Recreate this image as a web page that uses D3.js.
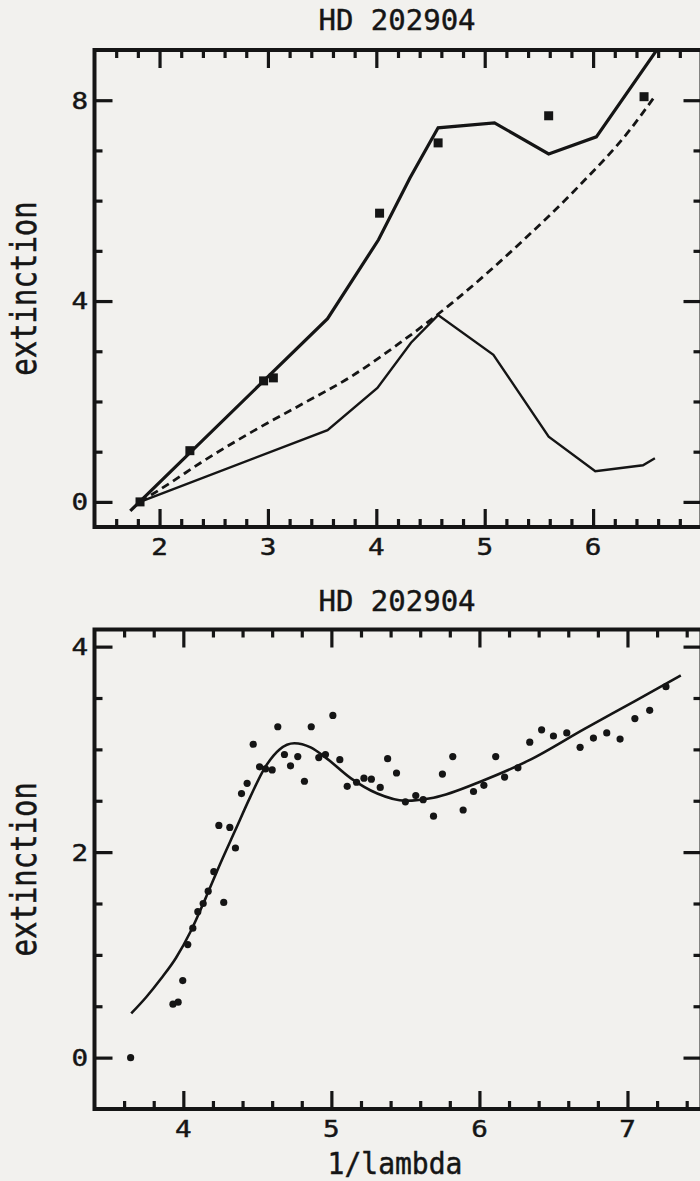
<!DOCTYPE html>
<html>
<head>
<meta charset="utf-8">
<script src="https://cdn.jsdelivr.net/npm/d3@7"></script>
<style>
  html, body { margin: 0; padding: 0; background: #f2f1ee; }
  svg { display: block; }
  text { font-family: "DejaVu Sans Mono", monospace; fill: #151515; stroke: #151515; stroke-width: 0.45; }
</style>
</head>
<body>
<svg id="chart" width="700" height="1181"></svg>
<script>
// ---- text ----
const titleText = "HD 202904";
const yLabelText = "extinction";
const xLabelText = "1/lambda";

// ---- upper panel: model curves and photometric points, [1/lambda, extinction] ----
const upperModel = [[1.73,-0.18],[3.55,3.65],[4.02,5.22],[4.31,6.45],[4.57,7.45],[5.09,7.55],[5.59,6.93],[6.03,7.27],[6.62,9.10]];
const lowerModel = [[1.82,0.00],[3.55,1.43],[4.01,2.27],[4.32,3.17],[4.57,3.72],[5.08,2.93],[5.59,1.30],[6.02,0.61],[6.46,0.73],[6.57,0.87]];
const dashedModel = [[1.82,0.00],[2.10,0.38],[2.38,0.78],[2.84,1.38],[3.30,1.93],[3.77,2.50],[4.22,3.17],[4.72,4.00],[5.36,5.22],[5.86,6.27],[6.34,7.41],[6.56,8.05]];
const photometry = [[1.82,0.00],[2.28,1.02],[2.96,2.41],[3.05,2.47],[4.03,5.75],[4.57,7.15],[5.59,7.69],[6.47,8.07]];

const upperXTicks = [2,3,4,5,6];
const upperYTicks = [0,4,8];

// ---- lower panel: fitted curve and spectral points ----
const fitCurve = [[3.648,0.43],[3.75,0.59],[3.85,0.77],[3.95,0.97],[4.05,1.23],[4.15,1.55],[4.25,1.89],[4.35,2.21],[4.45,2.53],[4.55,2.82],[4.65,3.00],[4.75,3.06],[4.86,3.02],[4.97,2.91],[5.13,2.72],[5.31,2.57],[5.50,2.50],[5.69,2.53],[6.03,2.70],[6.33,2.89],[6.71,3.20],[7.05,3.47],[7.36,3.72]];
const spectrum = [
  [3.644,0.00],[3.93,0.52],[3.965,0.54],[3.996,0.75],[4.03,1.10],[4.064,1.26],[4.098,1.42],[4.134,1.50],
  [4.168,1.62],[4.206,1.81],[4.273,1.51],[4.24,2.26],[4.314,2.24],[4.352,2.04],[4.393,2.57],[4.431,2.67],
  [4.472,3.05],[4.515,2.83],[4.555,2.81],[4.60,2.80],[4.638,3.22],[4.683,2.95],[4.724,2.84],[4.773,2.93],
  [4.818,2.69],[4.864,3.22],[4.915,2.92],[4.96,2.95],[5.01,3.33],[5.057,2.90],[5.107,2.64],
  [5.17,2.68],[5.22,2.72],[5.27,2.71],[5.33,2.63],[5.38,2.91],[5.44,2.77],[5.50,2.49],[5.57,2.55],
  [5.62,2.51],[5.69,2.35],[5.75,2.76],[5.82,2.93],[5.89,2.41],[5.96,2.59],[6.03,2.65],[6.11,2.93],
  [6.17,2.73],[6.26,2.82],[6.34,3.07],[6.42,3.19],[6.50,3.13],[6.59,3.16],[6.68,3.02],[6.77,3.11],
  [6.86,3.16],[6.95,3.10],[7.05,3.30],[7.15,3.38],[7.26,3.61]
];

const lowerXTicks = [4,5,6,7];
const lowerYTicks = [0,2,4];

// ---- drawing ----
const ink = "#151515";
const svg = d3.select("#chart");
svg.append("rect").attr("width", 700).attr("height", 1181).attr("fill", "#f2f1ee");

function minorValues(domain, step, majors) {
  const n0 = Math.ceil(domain[0] / step - 1e-9), n1 = Math.floor(domain[1] / step + 1e-9);
  return d3.range(n0, n1 + 1).map(i => +(i * step).toFixed(6))
    .filter(v => v > domain[0] + 1e-6 && v < domain[1] - 1e-6 && !majors.some(m => Math.abs(m - v) < 1e-6));
}

function drawPanel(p) {
  const g = svg.append("g");
  const x = d3.scaleLinear().domain(p.xDomain).range([p.left, p.right]);
  const y = d3.scaleLinear().domain(p.yDomain).range([p.bottom, p.top]);

  const clipId = "clip" + p.id;
  g.append("clipPath").attr("id", clipId)
    .append("rect").attr("x", p.left).attr("y", p.top)
    .attr("width", p.right - p.left).attr("height", p.bottom - p.top);

  // inward ticks on all four sides
  const xMajorAll = d3.range(Math.ceil(p.xDomain[0]), Math.floor(p.xDomain[1]) + 1);
  const xMinor = minorValues(p.xDomain, p.xMinorStep, xMajorAll);
  const yMinor = minorValues(p.yDomain, p.yMinorStep, p.yTicks);
  const majorLen = 18, minorLen = 8;

  function ticks(axisFn, scale, values, len, pos, horizontal) {
    const a = axisFn(scale).tickValues(values).tickSize(-len).tickSizeOuter(0).tickFormat("");
    const ag = g.append("g")
      .attr("transform", horizontal ? `translate(0,${pos})` : `translate(${pos},0)`)
      .attr("color", ink)
      .call(a);
    ag.select(".domain").remove();
    ag.selectAll(".tick line").attr("stroke-width", 3.2);
  }
  ticks(d3.axisBottom, x, xMajorAll, majorLen, p.bottom, true);
  ticks(d3.axisBottom, x, xMinor, minorLen, p.bottom, true);
  ticks(d3.axisTop, x, xMajorAll, majorLen, p.top, true);
  ticks(d3.axisTop, x, xMinor, minorLen, p.top, true);
  ticks(d3.axisLeft, y, p.yTicks, majorLen, p.left, false);
  ticks(d3.axisLeft, y, yMinor, minorLen, p.left, false);
  ticks(d3.axisRight, y, p.yTicks, majorLen, p.right, false);
  ticks(d3.axisRight, y, yMinor, minorLen, p.right, false);

  // frame
  g.append("rect")
    .attr("x", p.left).attr("y", p.top)
    .attr("width", p.right - p.left).attr("height", p.bottom - p.top)
    .attr("fill", "none").attr("stroke", ink).attr("stroke-width", 4);

  // tick labels
  g.selectAll(".xlab").data(p.xTicks).join("text")
    .attr("text-anchor", "middle")
    .attr("font-size", 23)
    .attr("transform", d => `translate(${x(d)},${p.bottom + 28}) scale(1.2,1)`)
    .text(d => d);
  g.selectAll(".ylab").data(p.yTicks).join("text")
    .attr("text-anchor", "end")
    .attr("font-size", 23)
    .attr("transform", d => `translate(88,${y(d) + 8.4}) scale(1.2,1)`)
    .text(d => d);

  // title and axis titles
  g.append("text").attr("x", (p.left + p.right) / 2 - 1).attr("y", p.top - p.titleGap)
    .attr("text-anchor", "middle").attr("font-size", 29).text(titleText);
  g.append("text")
    .attr("text-anchor", "middle").attr("font-size", 29)
    .attr("transform", `translate(36,${(p.top + p.bottom) / 2}) rotate(-90) scale(1,1.2)`)
    .text(yLabelText);
  if (p.xLabel) {
    g.append("text")
      .attr("text-anchor", "middle").attr("font-size", 28)
      .attr("transform", `translate(${(p.left + p.right) / 2 - 3},${p.bottom + 65}) scale(1,1.1)`)
      .text(p.xLabel);
  }

  const plot = g.append("g").attr("clip-path", `url(#${clipId})`);
  return { x, y, plot };
}

// upper panel
const up = drawPanel({
  id: "Upper", left: 94.5, right: 701.5, top: 50, bottom: 527,
  xDomain: [1.4, 7.0], yDomain: [-0.5, 9], xMinorStep: 0.2, yMinorStep: 1,
  xTicks: upperXTicks, yTicks: upperYTicks, titleGap: 20
});
const upLine = d3.line().x(d => up.x(d[0])).y(d => up.y(d[1]));
up.plot.append("path").datum(upperModel).attr("d", upLine)
  .attr("fill", "none").attr("stroke", ink).attr("stroke-width", 3.2);
up.plot.append("path").datum(lowerModel).attr("d", upLine)
  .attr("fill", "none").attr("stroke", ink).attr("stroke-width", 2.4);
up.plot.append("path").datum(dashedModel).attr("d", upLine.curve(d3.curveMonotoneX))
  .attr("fill", "none").attr("stroke", ink).attr("stroke-width", 2.8)
  .attr("stroke-dasharray", "8,5");
const sq = 9;
up.plot.selectAll(".sq").data(photometry).join("rect")
  .attr("x", d => up.x(d[0]) - sq / 2).attr("y", d => up.y(d[1]) - sq / 2)
  .attr("width", sq).attr("height", sq).attr("fill", ink);

// lower panel
const lo = drawPanel({
  id: "Lower", left: 94.5, right: 701.5, top: 629.5, bottom: 1109,
  xDomain: [3.4, 7.5], yDomain: [-0.5, 4.1667], xMinorStep: 0.2, yMinorStep: 0.5,
  xTicks: lowerXTicks, yTicks: lowerYTicks, titleGap: 18.5, xLabel: xLabelText
});
const loLine = d3.line().x(d => lo.x(d[0])).y(d => lo.y(d[1])).curve(d3.curveMonotoneX);
lo.plot.append("path").datum(fitCurve).attr("d", loLine)
  .attr("fill", "none").attr("stroke", ink).attr("stroke-width", 2.6);
lo.plot.selectAll(".pt").data(spectrum).join("circle")
  .attr("cx", d => lo.x(d[0])).attr("cy", d => lo.y(d[1]))
  .attr("r", 3.6).attr("fill", ink);
</script>
</body>
</html>
